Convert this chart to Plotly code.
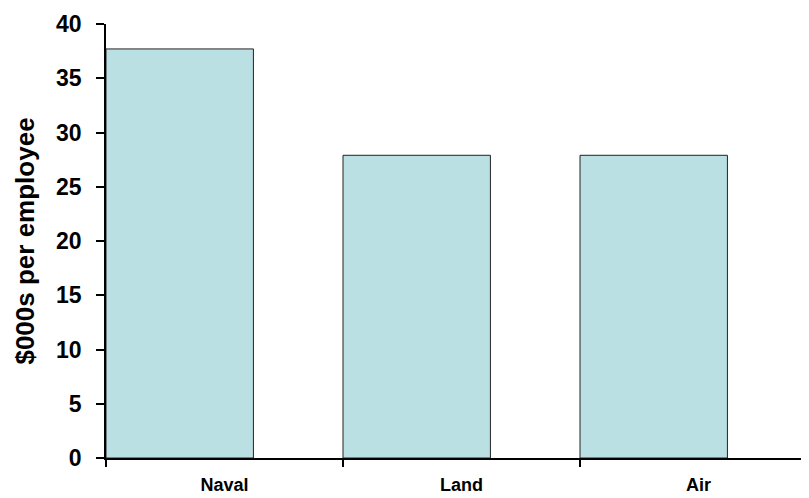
import plotly.graph_objects as go

categories = ["Naval", "Land", "Air"]
values = [37.7, 27.9, 27.9]
y_ticks = [0, 5, 10, 15, 20, 25, 30, 35, 40]

cat_pos = list(range(len(categories)))
label_pos = [p + 0.5 for p in cat_pos]

fig = go.Figure()
fig.add_trace(go.Bar(
    x=cat_pos, y=values, width=0.622, offset=0,
    marker=dict(color="#BAE0E3", line=dict(color="#222222", width=1)),
    hoverinfo="skip",
))

font = "Liberation Sans, Arial, sans-serif"
fig.update_layout(
    width=809, height=498,
    margin=dict(l=98, r=0, t=16, b=48),
    paper_bgcolor="white", plot_bgcolor="white",
    showlegend=False,
    font=dict(family=font, color="black"),
    xaxis=dict(
        range=[0, 3.0],
        tickmode="array", tickvals=label_pos, ticktext=["<b>%s</b>" % c for c in categories],
        ticks="", tickfont=dict(size=18, family=font), ticklabelstandoff=10,
        showline=True, linecolor="black", linewidth=1.5,
        showgrid=False, zeroline=False,
        minor=dict(tickmode="array", tickvals=cat_pos, ticks="outside", ticklen=7,
                   tickcolor="black", tickwidth=1.5, showgrid=False),
    ),
    yaxis=dict(
        range=[0, 40],
        tickmode="array", tickvals=y_ticks, ticktext=["<b>%d</b>" % v for v in y_ticks],
        ticks="outside", ticklen=8, tickwidth=1.5, tickcolor="black",
        tickfont=dict(size=23, family=font), ticklabelstandoff=10,
        showline=True, linecolor="black", linewidth=1.5,
        showgrid=False, zeroline=False,
        title=dict(text="<b>$000s per employee</b>", font=dict(size=26, family=font), standoff=14),
    ),
)

fig.write_html("out.html")
